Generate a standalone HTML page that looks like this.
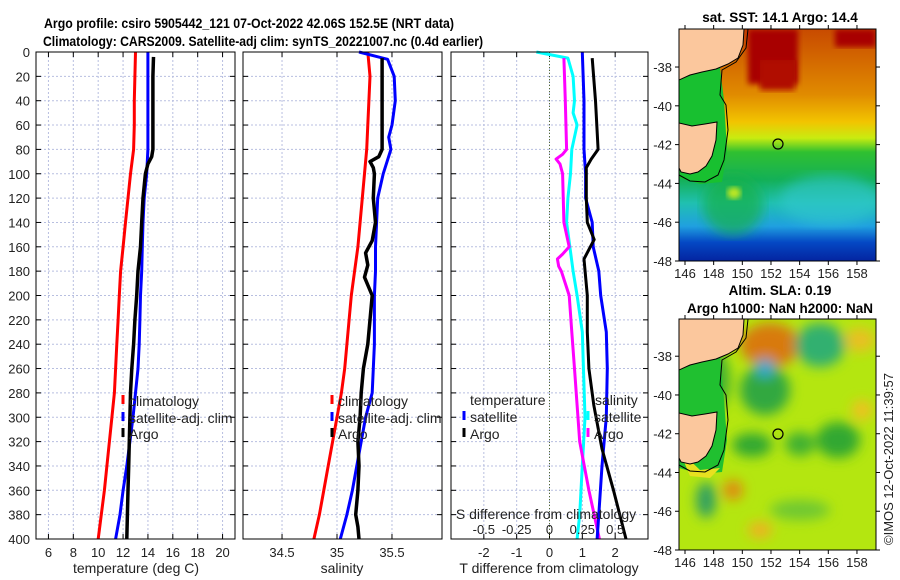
<!DOCTYPE html>
<html><head><meta charset="utf-8"><style>
html,body{margin:0;padding:0;background:#fff;}
svg{display:block;font-family:"Liberation Sans","DejaVu Sans",sans-serif;}
</style></head><body>
<svg id="fig" width="900" height="580" viewBox="0 0 900 580" xmlns="http://www.w3.org/2000/svg">
<defs>
<linearGradient id="sstGrad" x1="0" y1="0" x2="0" y2="1">
<stop offset="0" stop-color="#c84a00"/><stop offset="0.28" stop-color="#e08a00"/>
<stop offset="0.40" stop-color="#f2c400"/><stop offset="0.47" stop-color="#c8ec10"/>
<stop offset="0.53" stop-color="#30c030"/><stop offset="0.65" stop-color="#14b058"/>
<stop offset="0.75" stop-color="#20c0b0"/><stop offset="0.85" stop-color="#20a0e0"/>
<stop offset="0.92" stop-color="#0448c4"/><stop offset="1" stop-color="#0424a0"/>
</linearGradient>
<filter id="blur6"><feGaussianBlur stdDeviation="6"/></filter>
<filter id="blur3"><feGaussianBlur stdDeviation="3"/></filter>
<clipPath id="clipM1"><rect x="679" y="29" width="197" height="232"/></clipPath>
<clipPath id="clipM2"><rect x="679" y="319" width="197" height="231"/></clipPath>
</defs>
<text x="249" y="28" font-size="13.5" font-weight="bold" text-anchor="middle" textLength="410" lengthAdjust="spacingAndGlyphs">Argo profile: csiro 5905442_121 07-Oct-2022 42.06S 152.5E (NRT data)</text>
<text x="263" y="46" font-size="13.5" font-weight="bold" text-anchor="middle" textLength="440" lengthAdjust="spacingAndGlyphs">Climatology: CARS2009. Satellite-adj clim: synTS_20221007.nc (0.4d earlier)</text>
<g id="panels"></g>

<g>
<text x="780" y="22" font-size="13.5" font-weight="bold" text-anchor="middle">sat. SST: 14.1 Argo: 14.4</text>
<g clip-path="url(#clipM1)">
<rect x="679" y="29" width="197" height="232" fill="url(#sstGrad)"/>
<rect x="748" y="29" width="50" height="55" fill="#a80000" filter="url(#blur3)"/>
<rect x="760" y="60" width="35" height="30" fill="#b00800" filter="url(#blur3)"/>
<rect x="835" y="29" width="41" height="18" fill="#a80000" filter="url(#blur3)"/>
<ellipse cx="830" cy="200" rx="50" ry="25" fill="#30c8d0" opacity="0.6" filter="url(#blur6)"/>
<ellipse cx="733" cy="205" rx="30" ry="30" fill="#18b048" opacity="0.7" filter="url(#blur6)"/>
<ellipse cx="734" cy="193" rx="7" ry="6" fill="#c0e820" filter="url(#blur3)"/>
<polygon points="679,70 720,68 724,100 727,150 722,182 700,184 679,178" fill="#18c030"/>
<polygon points="679,29 744,29 743,45 738,58 728,64 716,69 702,72 690,75 679,80" fill="#fbc79d" stroke="#000" stroke-width="1"/>
<polygon points="679,123 692,126 705,124 717,122 716,140 712,156 706,166 698,172 690,174 681,172 679,168" fill="#fbc79d" stroke="#000" stroke-width="1"/>
<polyline points="748,29 746,48 736,62 722,70 720,95 726,105 728,130 724,160 718,175 705,182 690,181 679,175" fill="none" stroke="#000" stroke-width="1"/>
<circle cx="778" cy="144" r="5" fill="none" stroke="#000" stroke-width="1.2"/>
</g>
<rect x="679" y="29" width="197" height="232" fill="none" stroke="#000" stroke-width="1"/>
<g id="m1ticks"></g>
</g>

<g>
<text x="780" y="295" font-size="13.5" font-weight="bold" text-anchor="middle">Altim. SLA: 0.19</text>
<text x="780" y="313" font-size="13.5" font-weight="bold" text-anchor="middle">Argo h1000: NaN h2000: NaN</text>
<g clip-path="url(#clipM2)">
<rect x="679" y="319" width="197" height="231" fill="#b4e610"/>
<g filter="url(#blur6)">
<ellipse cx="770" cy="345" rx="30" ry="22" fill="#d87a10"/>
<ellipse cx="820" cy="345" rx="25" ry="22" fill="#30b070"/>
<ellipse cx="765" cy="390" rx="25" ry="25" fill="#30a840"/>
<ellipse cx="765" cy="368" rx="10" ry="9" fill="#30a8d0"/>
<ellipse cx="700" cy="380" rx="30" ry="40" fill="#40b030"/>
<ellipse cx="752" cy="445" rx="20" ry="12" fill="#30a830"/>
<ellipse cx="800" cy="444" rx="15" ry="12" fill="#40b030"/>
<ellipse cx="838" cy="440" rx="22" ry="18" fill="#30a830"/>
<ellipse cx="706" cy="500" rx="10" ry="18" fill="#30a060"/>
<ellipse cx="733" cy="490" rx="10" ry="10" fill="#e08a10"/>
<ellipse cx="760" cy="530" rx="12" ry="8" fill="#f0b020"/>
<ellipse cx="862" cy="410" rx="10" ry="10" fill="#f0c020"/>
<ellipse cx="860" cy="340" rx="15" ry="12" fill="#e8c020"/>
<ellipse cx="800" cy="510" rx="30" ry="10" fill="#70c830"/>
</g>
<polygon points="679,358 720,356 724,400 727,440 722,472 700,474 679,468" fill="#20c030"/>
<polygon points="679,450 700,470 720,468 710,478 690,476" fill="#e8e020"/>
<polygon points="679,319 744,319 743,335 738,348 728,354 716,359 702,362 690,365 679,370" fill="#fbc79d" stroke="#000" stroke-width="1"/>
<polygon points="679,413 692,416 705,414 717,412 716,430 712,446 706,456 698,462 690,464 681,462 679,458" fill="#fbc79d" stroke="#000" stroke-width="1"/>
<polyline points="748,319 746,338 736,352 722,360 720,385 726,395 728,420 724,450 718,465 705,472 690,471 679,465" fill="none" stroke="#000" stroke-width="1"/>
<circle cx="778" cy="434" r="5" fill="none" stroke="#000" stroke-width="1.2"/>
</g>
<rect x="679" y="319" width="197" height="231" fill="none" stroke="#000" stroke-width="1"/>
<g id="m2ticks"></g>
</g>
<text transform="translate(893,545) rotate(-90)" font-size="13" fill="#222">©IMOS 12-Oct-2022 11:39:57</text>
</svg>
<script>
var depthTicks=[0,20,40,60,80,100,120,140,160,180,200,220,240,260,280,300,320,340,360,380,400];
var climDepth=[0,20,40,60,80,100,120,140,160,180,200,220,240,260,280,300,320,340,360,380,400];
var climT=[13.0,12.95,12.9,12.9,12.85,12.6,12.4,12.2,12.0,11.8,11.7,11.6,11.5,11.4,11.3,11.1,10.9,10.7,10.5,10.25,10.0];
var satT=[14.0,14.0,14.0,14.0,14.0,13.9,13.7,13.6,13.55,13.5,13.4,13.35,13.3,13.2,13.0,12.8,12.55,12.3,12.0,11.75,11.4];
var argoTDepth=[4,20,40,60,80,86,92,100,120,140,160,180,200,220,240,260,280,300,320,340,360,380,400];
var argoT=[14.45,14.4,14.4,14.4,14.4,14.3,14.0,13.8,13.6,13.5,13.4,13.2,13.1,12.95,12.85,12.7,12.6,12.55,12.5,12.45,12.4,12.35,12.3];
var climS=[35.28,35.30,35.29,35.28,35.27,35.25,35.23,35.21,35.19,35.16,35.13,35.11,35.09,35.07,35.04,35.0,34.96,34.92,34.88,34.84,34.79];
var satSDepth=[0,6,20,40,60,70,80,100,120,140,160,180,200,240,280,300,320,340,360,380,400];
var satS=[35.2,35.46,35.52,35.53,35.5,35.47,35.49,35.42,35.37,35.36,35.35,35.35,35.34,35.34,35.32,35.26,35.22,35.18,35.14,35.09,35.03];
var argoSDepth=[5,20,40,60,80,86,90,95,100,120,140,155,165,175,185,200,220,240,260,280,300,320,340,360,380,390,400];
var argoS=[35.41,35.41,35.41,35.41,35.41,35.38,35.3,35.33,35.34,35.33,35.35,35.32,35.26,35.28,35.25,35.32,35.3,35.28,35.24,35.22,35.21,35.19,35.2,35.19,35.17,35.19,35.2];
var dTArgoDepth=[5,40,80,88,95,120,140,154,170,200,230,260,290,326,360,400];
var dTArgo=[1.3,1.4,1.48,1.27,1.12,1.12,1.15,1.36,1.05,1.15,1.15,1.2,1.35,1.6,1.95,2.33];
var dTSatDepth=[0,40,80,100,120,140,160,180,200,230,260,300,340,380,400];
var dTSat=[1.0,1.05,1.05,1.1,1.1,1.3,1.33,1.5,1.56,1.73,1.76,1.73,1.6,1.5,1.45];
var dSArgoDepth=[5,40,80,84,88,92,100,140,160,166,170,176,180,200,230,260,290,320,360,400];
var dSArgo=[0.11,0.12,0.13,0.10,0.05,0.08,0.1,0.11,0.15,0.1,0.06,0.07,0.09,0.15,0.17,0.19,0.21,0.23,0.3,0.38];
var dSSatDepth=[0,5,20,40,50,60,80,100,120,140,180,200,230,300,340,380,400];
var dSSat=[-0.1,0.14,0.18,0.19,0.18,0.21,0.17,0.16,0.14,0.13,0.18,0.21,0.25,0.27,0.25,0.23,0.21];
var tTicks=[6,8,10,12,14,16,18,20];
var sTicks=[34.5,35,35.5];
var dTTicks=[-2,-1,0,1,2];
var dSTickLabels=["-0.5","-0.25","0","0.25","0.5"];
var dSTicks=[-0.5,-0.25,0,0.25,0.5];
var lonTicks=[146,148,150,152,154,156,158];
var latTicks=[-38,-40,-42,-44,-46,-48];

var NS='http://www.w3.org/2000/svg';
var Y0=52,Y1=539;
function yD(d){return Y0+(d/400)*(Y1-Y0);}
function el(tag,attrs,parent){var e=document.createElementNS(NS,tag);for(var k in attrs)e.setAttribute(k,attrs[k]);parent.appendChild(e);return e;}
var root=document.getElementById('panels');

var panels=[
 {name:'temperature-panel',x0:36,x1:235,lo:5,hi:21},
 {name:'salinity-panel',x0:243,x1:442,lo:34.145,hi:35.955},
 {name:'difference-panel',x0:451,x1:648,lo:-3,hi:3}
];
function xf(p){return function(v){return p.x0+(v-p.lo)/(p.hi-p.lo)*(p.x1-p.x0);};}
var xT=xf(panels[0]),xS=xf(panels[1]),xDT=xf(panels[2]);
function xDS(s){return xDT(s*4);}

function drawFrame(p,ticks,fx){
  var g=el('g',{},root);
  
  
  el('rect',{x:p.x0,y:Y0,width:p.x1-p.x0,height:Y1-Y0,fill:'#fff'},g);
  ticks.forEach(function(t){var x=fx(t);el('line',{x1:x,x2:x,y1:Y0,y2:Y1,stroke:'#b8bfe0','stroke-width':1,'stroke-dasharray':'2,2'},g);});
  depthTicks.forEach(function(d){var y=yD(d);
    el('line',{x1:p.x0,x2:p.x1,y1:y,y2:y,stroke:'#b8bfe0','stroke-width':1,'stroke-dasharray':'2,2'},g);
    el('line',{x1:p.x0,x2:p.x0+5,y1:y,y2:y,stroke:'#000','stroke-width':1},g);
    el('line',{x1:p.x1-5,x2:p.x1,y1:y,y2:y,stroke:'#000','stroke-width':1},g);});
  ticks.forEach(function(t){var x=fx(t);
    el('line',{x1:x,x2:x,y1:Y1,y2:Y1-5,stroke:'#000'},g);
    el('line',{x1:x,x2:x,y1:Y0,y2:Y0+5,stroke:'#000'},g);});
  return g;
}
function line(g,xs,ds,fx,color,name,w){
  var pts=xs.map(function(v,i){return fx(v).toFixed(1)+','+yD(ds[i]).toFixed(1);}).join(' ');
  var pl=el('polyline',{points:pts,fill:'none',stroke:color,'stroke-width':w||3,'stroke-linejoin':'round'},g);
  
  
}
function label(g,x,y,txt,anchor,size,name){
  var t=el('text',{x:x,y:y,'font-size':size||13,'text-anchor':anchor||'middle',fill:'#222'},g);t.textContent=txt;
  
  
  return t;
}
function legendItem(g,x,y,color,txt,name){
  el('rect',{x:x-1.5,y:y-11,width:3,height:9,fill:color},g);
  label(g,x+6,y,txt,'start',14,name);
}

var g1=drawFrame(panels[0],tTicks,xT);
line(g1,climT,climDepth,xT,'#ff0000','climatology-temperature-line');
line(g1,satT,climDepth,xT,'#0000ff','satellite-temperature-line');
line(g1,argoT,argoTDepth,xT,'#000','argo-temperature-line',3.5);
el('rect',{x:36,y:52,width:199,height:487,fill:'none',stroke:'#000'},g1);
depthTicks.forEach(function(d){label(g1,30,yD(d)+5,String(d),'end',13,'depth-tick-label');});
tTicks.forEach(function(t){label(g1,xT(t),557,String(t),'middle',13,'temperature-tick-label');});
label(g1,136,573,'temperature (deg C)','middle',14,'temperature-axis-title');
legendItem(g1,123,406,'#ff0000','climatology','legend-climatology');
legendItem(g1,123,423,'#0000ff','satellite-adj. clim','legend-satellite-adj');
legendItem(g1,123,439,'#000','Argo','legend-argo');

var g2=drawFrame(panels[1],sTicks,xS);
line(g2,climS,climDepth,xS,'#ff0000','climatology-salinity-line');
line(g2,satS,satSDepth,xS,'#0000ff','satellite-salinity-line');
line(g2,argoS,argoSDepth,xS,'#000','argo-salinity-line',3.5);
el('rect',{x:243,y:52,width:199,height:487,fill:'none',stroke:'#000'},g2);
sTicks.forEach(function(t){label(g2,xS(t),557,String(t),'middle',13,'salinity-tick-label');});
label(g2,342,573,'salinity','middle',14,'salinity-axis-title');
legendItem(g2,332,406,'#ff0000','climatology','legend-climatology-sal');
legendItem(g2,332,423,'#0000ff','satellite-adj. clim','legend-satellite-adj-sal');
legendItem(g2,332,439,'#000','Argo','legend-argo-sal');

var g3=drawFrame(panels[2],dTTicks,xDT);
el('line',{x1:xDT(0),x2:xDT(0),y1:Y0,y2:Y1,stroke:'#556b2f','stroke-width':1,'stroke-dasharray':'1,2'},g3);
line(g3,dSSat,dSSatDepth,xDS,'#00ffff','satellite-salinity-diff-line');
line(g3,dSArgo,dSArgoDepth,xDS,'#ff00ff','argo-salinity-diff-line');
line(g3,dTSat,dTSatDepth,xDT,'#0000ff','satellite-temperature-diff-line');
line(g3,dTArgo,dTArgoDepth,xDT,'#000','argo-temperature-diff-line');
el('rect',{x:451,y:52,width:197,height:487,fill:'none',stroke:'#000'},g3);
dTTicks.forEach(function(t){label(g3,xDT(t),557,String(t),'middle',13,'t-diff-tick-label');});
label(g3,549,573,'T difference from climatology','middle',14,'t-diff-axis-title');
label(g3,546,519,'S difference from climatology','middle',14,'s-diff-axis-title');
dSTicks.forEach(function(t,i){label(g3,xDS(t),534,dSTickLabels[i],'middle',13,'s-diff-tick-label');});
label(g3,470,405,'temperature','start',14,'legend-temperature-header');
legendItem(g3,464,422,'#0000ff','satellite','legend-t-satellite');
legendItem(g3,464,439,'#000','Argo','legend-t-argo');
label(g3,595,405,'salinity','start',14,'legend-salinity-header');
legendItem(g3,588,422,'#00ffff','satellite','legend-s-satellite');
legendItem(g3,588,439,'#ff00ff','Argo','legend-s-argo');

function mapTicks(id,top,bottom,latTop){
  var g=document.getElementById(id);
  lonTicks.forEach(function(l){var x=685+(l-146)*14.33;
    el('line',{x1:x,x2:x,y1:bottom,y2:bottom+4,stroke:'#000'},g);
    el('line',{x1:x,x2:x,y1:top,y2:top-4,stroke:'#000'},g);
    label(g,x,bottom+17,String(l),'middle',13,'longitude-tick-label');});
  latTicks.forEach(function(l){var y=bottom-(l+48)*((bottom-top)/(latTop+48));
    el('line',{x1:679,x2:675,y1:y,y2:y,stroke:'#000'},g);
    el('line',{x1:876,x2:880,y1:y,y2:y,stroke:'#000'},g);
    label(g,672,y+5,String(l),'end',13,'latitude-tick-label');});
}
mapTicks('m1ticks',29,261,-36.04);
mapTicks('m2ticks',319,550,-36.08);
</script>
</body></html>
